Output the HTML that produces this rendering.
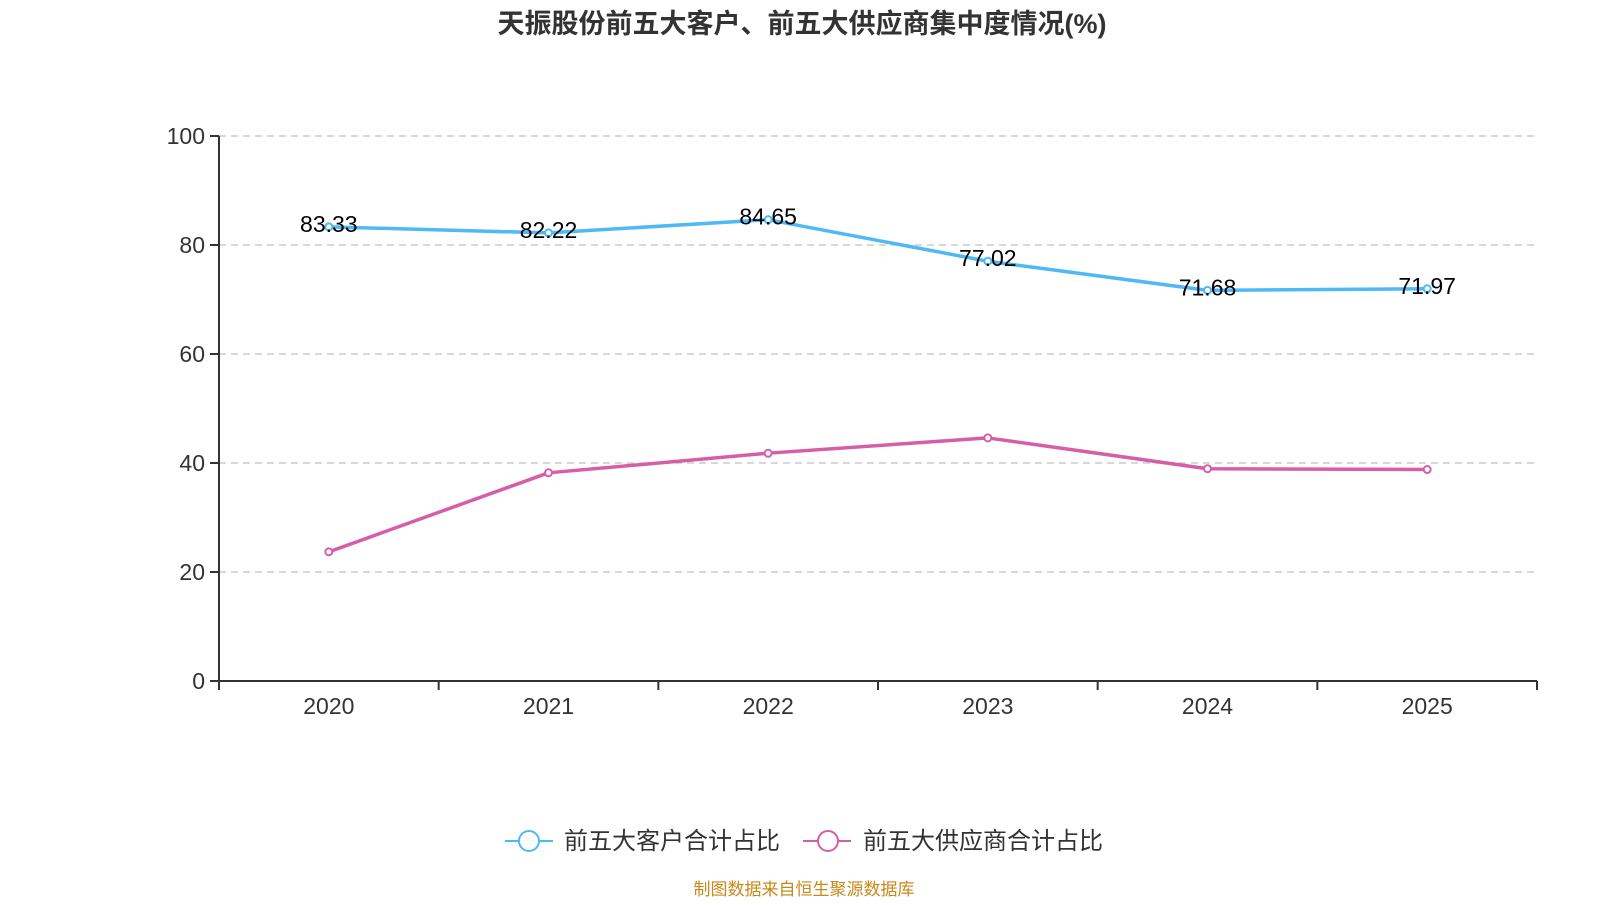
<!DOCTYPE html>
<html><head><meta charset="utf-8"><style>
body{margin:0;background:#fff;width:1600px;height:900px;overflow:hidden;font-family:"Liberation Sans","Noto Sans CJK SC",sans-serif}
</style></head><body>
<svg id="chart" width="1600" height="900" xmlns="http://www.w3.org/2000/svg">
<text x="802" y="33" text-anchor="middle" font-size="27" font-weight="bold" fill="#333" font-family="Liberation Sans, Noto Sans CJK SC, sans-serif">天振股份前五大客户、前五大供应商集中度情况(%)</text>
<g id="grid"></g><g id="axes"></g><g id="series"></g>
<g>
<g>
<line x1="505" y1="841" x2="553" y2="841" stroke="#4fb9f5" stroke-width="2"/>
<circle cx="529" cy="841" r="10" fill="#fff" stroke="#4fb9f5" stroke-width="2"/>
<text x="564" y="849" font-size="24" fill="#333">前五大客户合计占比</text></g>
<g>
<line x1="803" y1="841" x2="851" y2="841" stroke="#d65ea8" stroke-width="2"/>
<circle cx="828" cy="841" r="10" fill="#fff" stroke="#d65ea8" stroke-width="2"/>
<text x="863" y="849" font-size="24" fill="#333">前五大供应商合计占比</text></g>
</g>
<text x="804" y="901" text-anchor="middle" font-size="17" fill="#c8891a" dy="-6">制图数据来自恒生聚源数据库</text>
</svg>
<script>
const categories=["2020","2021","2022","2023","2024","2025"];
const customers=[83.33,82.22,84.65,77.02,71.68,71.97];
const suppliers=[23.7,38.2,41.8,44.6,38.95,38.8];
const yTicks=[0,20,40,60,80,100];
const NS="http://www.w3.org/2000/svg";
const L=219,R=1537,T=136,B=681;
const bw=(R-L)/categories.length;
const x=i=>L+bw*(i+0.5);
const y=v=>B-(v/100)*(B-T);
function mk(tag,attrs,parent){const e=document.createElementNS(NS,tag);for(const k in attrs)e.setAttribute(k,attrs[k]);parent.appendChild(e);return e;}
const grid=document.getElementById('grid'),axes=document.getElementById('axes'),ser=document.getElementById('series');
yTicks.forEach(t=>{
 if(t>0){const g=mk('line',{x1:L,x2:R,y1:y(t),y2:y(t),stroke:'#ccc','stroke-width':1.5,'stroke-dasharray':'7,5'},grid);
 
 }
 mk('line',{x1:L-9,x2:L,y1:y(t),y2:y(t),stroke:'#333','stroke-width':2},axes);
 const tx=mk('text',{x:L-14,y:y(t)+8,'text-anchor':'end','font-size':23,fill:'#333'},axes);tx.textContent=t;
 
 
});
const ya=mk('line',{x1:L,x2:L,y1:T,y2:B,stroke:'#333','stroke-width':2},axes);


const xa=mk('line',{x1:L,x2:R,y1:B,y2:B,stroke:'#333','stroke-width':2},axes);


for(let i=0;i<=categories.length;i++)mk('line',{x1:L+bw*i,x2:L+bw*i,y1:B,y2:B+9,stroke:'#333','stroke-width':2},axes);
categories.forEach((c,i)=>{const t=mk('text',{x:x(i),y:B+33,'text-anchor':'middle','font-size':23,fill:'#333'},axes);t.textContent=c;
 
 });
function draw(vals,color,name,labels){
 const p=mk('polyline',{points:vals.map((v,i)=>x(i)+','+y(v)).join(' '),fill:'none',stroke:color,'stroke-width':3.5,'stroke-linejoin':'round'},ser);
 
 
 vals.forEach((v,i)=>{const c=mk('circle',{cx:x(i),cy:y(v),r:3.5,fill:'#fff',stroke:color,'stroke-width':2},ser);
  
  
  if(labels){const t=mk('text',{x:x(i),y:y(v)+5,'text-anchor':'middle','font-size':23,fill:'#000'},ser);t.textContent=v.toFixed(2);
  
  }
 });
}
draw(suppliers,'#d65ea8','suppliers',false);
draw(customers,'#4fb9f5','customers',true);
</script>
</body></html>
